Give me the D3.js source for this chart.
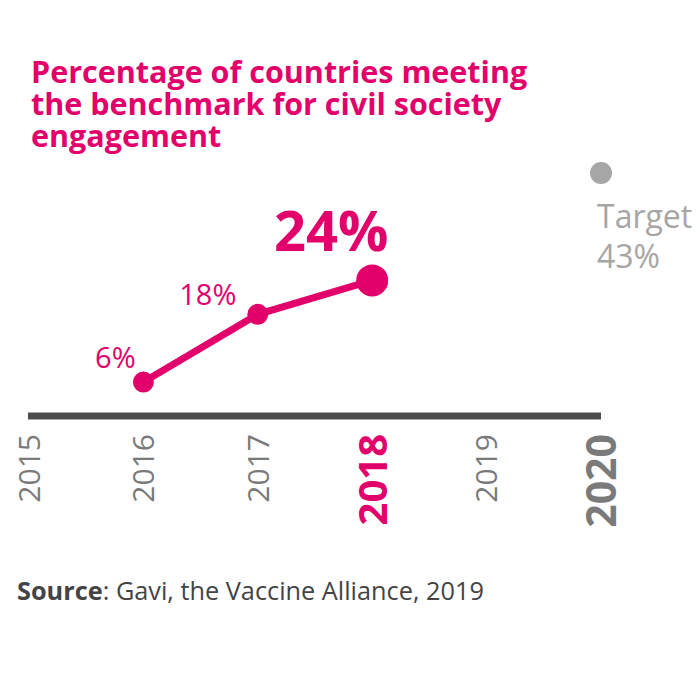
<!DOCTYPE html>
<html>
<head>
<meta charset="utf-8">
<script src="https://cdn.jsdelivr.net/npm/d3@7"></script>
<style>
  body { margin: 0; background: #fff; }
  text { font-family: "Open Sans", sans-serif; }
</style>
</head>
<body>
<div id="chart"></div>
<script>
const pink = "#e2006b";
const grey = "#7a7a7a";

// data
const titleLines = ["Percentage of countries meeting", "the benchmark for civil society", "engagement"];
const years = [2015, 2016, 2017, 2018, 2019, 2020];
const actualYears = [2016, 2017, 2018];
const actualValues = [6, 18, 24];
const targetYear = 2020;
const targetValue = 43;

const svg = d3.select("#chart").append("svg")
  .attr("width", 700).attr("height", 700);

const x = d3.scaleLinear().domain([2015, 2020]).range([29, 601]);
const y = d3.scaleLinear().domain([0, 10]).range([416, 359.5]);

// title, one text per line
svg.selectAll(".title")
  .data(titleLines)
  .join("text")
  .attr("class", "title")
  .attr("x", 31)
  .attr("y", (d, i) => 83 + i * 32)
  .attr("fill", pink)
  .attr("font-size", 30.5)
  .attr("font-weight", "bold")
  .text(d => d);

// axis baseline
svg.append("line")
  .attr("x1", x(2015) - 1).attr("x2", x(2020))
  .attr("y1", y(0)).attr("y2", y(0))
  .attr("stroke", "#4d4d4d")
  .attr("stroke-width", 7);

// year labels
const yearSize = d => d === 2018 ? 40 : d === 2020 ? 41 : 30;
svg.selectAll(".year")
  .data(years)
  .join("text")
  .attr("class", "year")
  .attr("transform", d => `translate(${x(d) + 0.36 * yearSize(d)},434) rotate(-90)`)
  .attr("text-anchor", "end")
  .attr("fill", d => d === 2018 ? pink : grey)
  .attr("font-size", yearSize)
  .attr("font-weight", d => d === 2018 || d === 2020 ? "bold" : "normal")
  .text(d => d);

// line
const pts = actualYears.map((d, i) => [d, actualValues[i]]);
svg.append("path")
  .datum(pts)
  .attr("fill", "none")
  .attr("stroke", pink)
  .attr("stroke-width", 7)
  .attr("d", d3.line().x(d => x(d[0])).y(d => y(d[1])));

svg.selectAll(".dot")
  .data(pts)
  .join("circle")
  .attr("class", "dot")
  .attr("cx", d => x(d[0]))
  .attr("cy", d => y(d[1]))
  .attr("r", (d, i) => i === pts.length - 1 ? 16 : 10.5)
  .attr("fill", pink);

// value labels
const labelOff = [[-28, -14], [-50, -9], [-41, -29]];
svg.selectAll(".val")
  .data(pts)
  .join("text")
  .attr("class", "val")
  .attr("x", (d, i) => x(d[0]) + labelOff[i][0])
  .attr("y", (d, i) => y(d[1]) + labelOff[i][1])
  .attr("text-anchor", "middle")
  .attr("fill", pink)
  .attr("font-size", (d, i) => i === pts.length - 1 ? 56 : 29)
  .attr("font-weight", (d, i) => i === pts.length - 1 ? "bold" : "normal")
  .text(d => d[1] + "%");

// target
svg.append("circle")
  .attr("cx", x(targetYear)).attr("cy", y(targetValue))
  .attr("r", 11)
  .attr("fill", "#a6a6a6");

svg.append("text")
  .attr("x", x(targetYear) - 4).attr("y", y(targetValue) + 55)
  .attr("fill", "#a6a6a6")
  .attr("font-size", 32)
  .text("Target");
svg.append("text")
  .attr("x", x(targetYear) - 4).attr("y", y(targetValue) + 95)
  .attr("fill", "#a6a6a6")
  .attr("font-size", 32)
  .text(targetValue + "%");

// source
const src = svg.append("text")
  .attr("x", 17).attr("y", 600)
  .attr("fill", "#444")
  .attr("font-size", 25.3);
src.append("tspan").attr("font-weight", "bold").text("Source");
src.append("tspan").text(": Gavi, the Vaccine Alliance, 2019");
</script>
</body>
</html>
